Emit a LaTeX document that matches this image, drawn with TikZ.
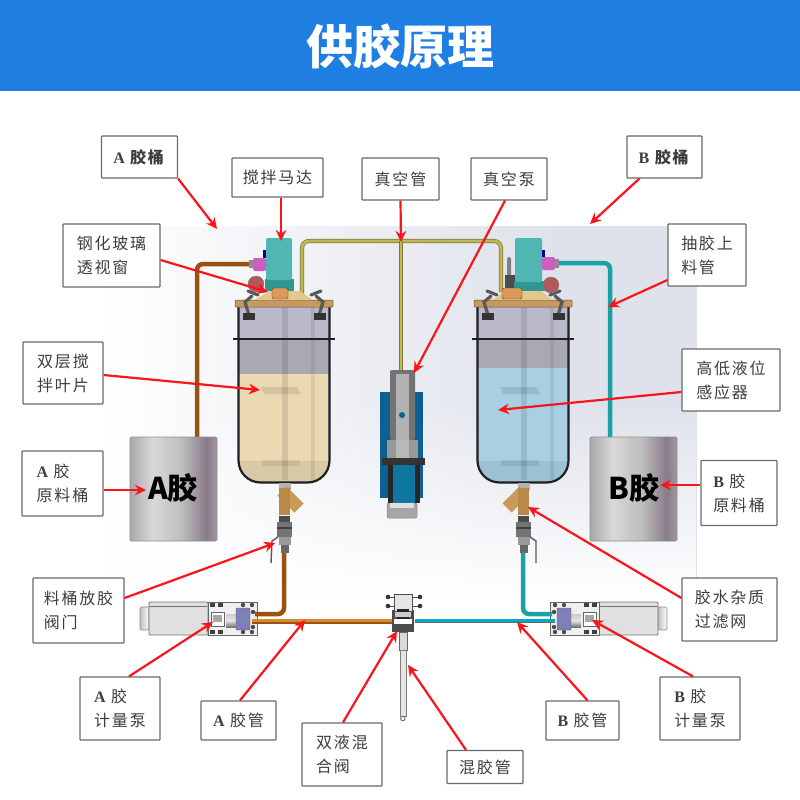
\documentclass[tikz,border=0pt]{standalone}
\usepackage{fontspec}
\usetikzlibrary{arrows.meta,fadings,calc}
\newfontfamily\cjk[LetterSpace=11]{Noto Sans CJK SC}
\newfontfamily\titlefont{Noto Sans CJK SC}
\newfontfamily\latinface{Liberation Serif}
\setmainfont{Noto Sans CJK SC}
\newcommand{\Lat}[1]{{\latinface\bfseries #1}}
\definecolor{headblue}{HTML}{1E7EE2}
\definecolor{boxedge}{HTML}{6A6A6A}
\definecolor{labeltext}{HTML}{3E3E3E}
\definecolor{alert}{HTML}{FA141C}
\definecolor{amberdark}{HTML}{9A5212}
\definecolor{amber}{HTML}{D98A2E}
\definecolor{tealpipe}{HTML}{17A3A6}
\definecolor{mustard}{HTML}{BFB850}
\definecolor{mustarddark}{HTML}{807A36}
\definecolor{wall}{HTML}{1E1E24}
\definecolor{upperzone}{HTML}{B9B9C9}
\definecolor{midzone}{HTML}{A9A9B2}
\definecolor{lidbrown}{HTML}{C59A62}
\definecolor{conetan}{HTML}{E2C88E}
\definecolor{motorteal}{HTML}{4FB6B4}
\definecolor{motordark}{HTML}{2F9690}
\definecolor{joint}{HTML}{C95FC0}
\definecolor{gauge}{HTML}{B4575A}
\definecolor{pumpblue}{HTML}{0F5F92}
\definecolor{bgtint}{HTML}{DFE2EB}
\definecolor{glueA}{HTML}{EBD9B2}
\definecolor{glueB}{HTML}{A8D0E2}
\definecolor{brassbody}{HTML}{B8894A}
\definecolor{brassarm}{HTML}{C99A58}
\tikzfading[name=fadeeast, left color=transparent!0, right color=transparent!100]
\tikzfading[name=fadeup, top color=transparent!100, bottom color=transparent!0]
\tikzfading[name=fadeband, top color=transparent!100, middle color=transparent!35, bottom color=transparent!100]
\pgfdeclarehorizontalshading{drumsteel}{100bp}{
  color(0bp)=(black!34); color(25bp)=(black!34); color(38bp)=(black!15);
  color(55bp)=(black!26); color(69bp)=(violet!22!black!52); color(75bp)=(violet!18!black!40); color(100bp)=(violet!18!black!40)}
\tikzset{
  labelbox/.style={draw=boxedge, line width=1.2pt, fill=white, rounded corners=0.8pt,
    minimum width=#1, inner sep=0pt, text=labeltext, font=\cjk\fontsize{16}{24}\selectfont, align=left},
  callout/.style={draw=alert, line width=2.2pt, -{Stealth[length=11pt,width=10.5pt]}},
  amberpipe/.style={draw=amberdark, line width=4.5pt, rounded corners=6pt},
  tealtube/.style={draw=tealpipe, line width=4.5pt, rounded corners=6pt},
  yellowtube/.style={draw=mustarddark, line width=4.2pt, rounded corners=7pt},
  yellowcore/.style={draw=mustard, line width=2.8pt, rounded corners=7pt},
  clampline/.style={draw=#1, line width=3.2pt, line cap=round},
  drumbody/.style={shading=drumsteel, draw=black!45, line width=.8pt, rounded corners=1.5pt},
}
% vessel shell, drawn at the position of the left tank
\newcommand{\vesselshell}[2]{%
  \fill[#1] (239,#2) [rounded corners=21pt] -- (239,482) -- (329,482) -- (329,420) [sharp corners] -- (329,#2) -- cycle;
  \fill[upperzone] (239,307) rectangle (329,340);
  \fill[midzone] (239,340) rectangle (329,#2);
  \fill[black, opacity=.07] (239,461) [rounded corners=21pt] -- (239,482) -- (329,482) -- (329,470) [sharp corners] -- (329,461) -- cycle;
  \fill[black, opacity=.10] (282,307) rectangle (288,480);
  \fill[black, opacity=.07] (311,307) rectangle (315,480);
  \fill[black, opacity=.10] (261,387) -- (297,387) -- (301,394) -- (264,394) -- cycle;
  \fill[black, opacity=.08] (262,460) rectangle (300,466);
  \draw[wall, line width=2.2pt] (238.5,307) [rounded corners=22pt] -- (238.5,482.5) -- (329.5,482.5) -- (329.5,420) [sharp corners] -- (329.5,307);
  \draw[wall, line width=2pt] (233,339) -- (335,339);
  \fill[lidbrown, draw=brown!60!black, line width=.5pt, rounded corners=1pt] (235,300) rectangle (333,307);
  % toggle clamps on the lid
  \draw[clampline=black!65] (248,291) -- (258,295);
  \draw[clampline=black!65] (252,296) -- (245,302) -- (249,315);
  \fill[black!80] (243,313) rectangle (255,320);
  \draw[clampline=black!65] (321,291) -- (311,295);
  \draw[clampline=black!65] (316,296) -- (323,302) -- (319,315);
  \fill[black!80] (314,313) rectangle (326,320);
}
% valve stack below the strainer, common to both tanks
\newcommand{\valvestack}{%
  \fill[black!70] (279,516) rectangle (290,522);
  \fill[black!55] (277,522) rectangle (292,537);
  \fill[black!75] (277,527) rectangle (292,529);
  \fill[black!40] (279,537) rectangle (291,545);
  \fill[black!60] (281,545) rectangle (289,553);
}
% servo metering pump
\newcommand{\meterpump}{%
  \shade[draw=black!45, line width=.7pt, rounded corners=1.5pt, left color=black!25, right color=white] (140,607) rectangle (149,630);
  \fill[black!12, draw=black!55, line width=.9pt, rounded corners=1pt] (149,602) rectangle (208,635);
  \draw[black!55, line width=.7pt] (149,606.5) -- (207,606.5);
  \fill[black!6, draw=black!60, line width=.9pt] (208,602) rectangle (257,635);
  \foreach \bx/\by in {210/603,218/603,210/630,218/630}
    \fill[black!75] (\bx,\by) rectangle ++(5,4);
  \fill[white, draw=black!60, line width=.6pt] (211,612) rectangle (224,626);
  \fill[black!35] (213,615) rectangle (222,622);
  \shade[top color=black!20, bottom color=black!55, middle color=black!10] (226,614) rectangle (237,627);
  \fill[black!55!blue!50!white, draw=black!65, line width=.4pt, rounded corners=1pt] (236,608) rectangle (250,630);
  \foreach \rx/\ry in {243/605,252/605,243/632,252/632,253/612,253/627}
    \fill[black!70] (\rx,\ry) circle (2.2);
}
\begin{document}
\begin{tikzpicture}[x=1pt,y=-1pt]
\useasboundingbox (0,0) rectangle (800,800);
\fill[white] (0,0) rectangle (800,800);

% backdrop tint of the model view
\fill[bgtint] (108,226) rectangle (697,600);
\fill[white, path fading=fadeeast] (108,226) rectangle (560,600);
\fill[white, path fading=fadeup] (108,400) rectangle (697,600);
\fill[bgtint, path fading=fadeband, opacity=.6] (108,340) rectangle (480,590);

% heading band
\fill[headblue] (0,0) rectangle (800,91);
\node[text=white, font=\titlefont\bfseries\fontsize{47}{50}\selectfont] (heading) at (400,46) {供胶原理};

% feed pipes and vacuum line
\draw[amberpipe] (252,264) -- (197,264) -- (197,440);
\draw[tealtube] (555,263) -- (610,263) -- (610,440);
\draw[yellowtube] (302,298) -- (302,241) -- (501,241) -- (501,292);
\draw[yellowcore] (302,298) -- (302,241) -- (501,241) -- (501,292);
\draw[mustarddark, line width=4.2pt] (401,241) -- (401,372);
\draw[mustard, line width=2.8pt] (401,241) -- (401,372);

% left vessel
\vesselshell{glueA}{374}
\fill[conetan] (254,300) -- (270,291) -- (300,291) -- (313,300) -- cycle;
\fill[motordark] (265,279) rectangle (294,291);
\fill[motorteal, rounded corners=2pt] (266,238) rectangle (292,280);
\fill[joint, rounded corners=2pt] (253,258) rectangle (266,271);
\fill[black!45] (249,260) rectangle (254,268);
\fill[blue!60!black] (263,250) rectangle (266,258);
\fill[gauge, draw=black!50, line width=.4pt] (256,284) circle (8);
\fill[brown!75!orange!80, draw=brown!50!black, line width=.4pt, rounded corners=1.5pt] (272,288) rectangle (288,299);

% right vessel
\begin{scope}[xshift=239pt]
\vesselshell{glueB}{368}
\end{scope}
\fill[conetan] (493,300) -- (505,291) -- (541,291) -- (552,300) -- cycle;
\fill[black!50, rounded corners=1.5pt] (507,257) rectangle (511,290);
\fill[black!70] (505,275) rectangle (515,290);
\fill[motordark] (514,281) rectangle (545,291);
\fill[motorteal, rounded corners=2pt] (515,238) rectangle (542,282);
\fill[joint, rounded corners=2pt] (542,257) rectangle (555,270);
\fill[black!45] (555,259) rectangle (559,268);
\fill[blue!60!black] (542,250) rectangle (545,257);
\fill[gauge, draw=black!50, line width=.4pt] (551,285) circle (8);
\fill[brown!75!orange!80, draw=brown!50!black, line width=.4pt, rounded corners=1.5pt] (502,288) rectangle (522,299);

% vacuum pump
\fill[pumpblue] (380,392) rectangle (423,498);
\fill[black!55, rounded corners=2pt] (390,370) rectangle (415,440);
\fill[black!30] (396,374) rectangle (409,440);
\fill[black!40] (387,440) rectangle (418,458);
\fill[black!28] (396,440) rectangle (409,458);
\fill[pumpblue] (402,415) circle (3);
\fill[pumpblue!85!cyan] (393,465) rectangle (415,503);
\fill[black!85] (388,465) rectangle (393,503);
\fill[black!85] (415,465) rectangle (420,503);
\fill[black!80] (382,458) rectangle (425,465);
\fill[black!35, draw=black!50, line width=.5pt, rounded corners=2pt] (387,503) rectangle (417,518);
\fill[black!12] (390,503) rectangle (414,508);

% strainers, valve stacks and lever handles
\fill[black!30] (279,483) rectangle (291,490);
\draw[brassarm, line width=13pt, rounded corners=2pt] (282,491) -- (299,508);
\fill[brassbody] (279,488) rectangle (290,515);
\valvestack
\begin{scope}[xshift=239pt]
\fill[black!30] (279,483) rectangle (291,490);
\draw[brassarm, line width=13pt] (285,491) -- (268,508);
\fill[brassbody] (279,488) rectangle (290,515);
\valvestack
\end{scope}
\draw[black!65, line width=1.4pt] (278,537) -- (272,541) -- (271,563);
\draw[black!65, line width=1.4pt] (530,537) -- (536,541) -- (536,563);

% metering pumps
\meterpump
\begin{scope}[shift={(807,0)},xscale=-1]
\meterpump
\end{scope}

% glue lines to the mixing valve
\draw[amberpipe] (284,553) -- (284,614) -- (255,614);
\draw[tealtube] (523,553) -- (523,614) -- (552,614);
\draw[amberdark, line width=5pt] (252,621) -- (392,621);
\draw[amber, line width=2.6pt] (252,620.4) -- (392,620.4);
\draw[black!60, line width=4.8pt] (415,621) -- (555,621);
\draw[cyan!75!green, line width=3.2pt] (415,620.4) -- (555,620.4);

% mixing valve and static mixer tube
\fill[black!15, draw=black!60, line width=.7pt] (399,632) rectangle (407,650);
\fill[black!10, draw=black!50, line width=.6pt] (400,650) rectangle (406,716);
\draw[black!55, line width=1pt] (402.8,718.5) circle (2.2);
\foreach \kx/\ky in {388/597,388/606,420/597,420/606}{
  \draw[black!70, line width=1pt] (\kx,\ky) -- (403,\ky);
  \fill[black!80] (\kx,\ky) circle (2.3);
}
\fill[black!70] (392,610) rectangle (414,632);
\fill[black!10, draw=black!70, line width=.8pt] (394,594) rectangle (412,611);
\fill[white] (394,619) rectangle (412,624);
\fill[black!20] (395,612) rectangle (411,617);
\fill[black!85] (397,609) rectangle (409,612);
\fill[black!85] (397,617) rectangle (409,619);

% storage drums
\shade[drumbody] (130,437) rectangle (217,541);
\shade[drumbody] (590,437) rectangle (677,541);
\node[font=\bfseries\fontsize{30}{32}\selectfont, text=black] (drumA) at (173,488) {A胶};
\node[font=\bfseries\fontsize{30}{32}\selectfont, text=black] (drumB) at (634,488) {B胶};

% labels
\node[labelbox=76pt, minimum height=42pt] (labTankA) at (139.5,157) {\Lat{A} \textbf{胶桶}};
\node[labelbox=75pt, minimum height=42pt] (labTankB) at (664.5,157) {\Lat{B} \textbf{胶桶}};
\node[labelbox=91pt, minimum height=39pt] (labMotor) at (277.5,177.5) {搅拌马达};
\node[labelbox=77pt, minimum height=42pt] (labVacTube) at (400.5,179) {真空管};
\node[labelbox=76pt, minimum height=42pt] (labVacPump) at (509,179) {真空泵};
\node[labelbox=97pt, minimum height=63pt] (labGlass) at (111.5,255.5) {钢化玻璃\\透视窗};
\node[labelbox=80pt, minimum height=62pt] (labBlade) at (63,373) {双层搅\\拌叶片};
\node[labelbox=78pt, minimum height=62pt] (labFeed) at (707,255) {抽胶上\\料管};
\node[labelbox=98pt, minimum height=62pt] (labLevel) at (731,380) {高低液位\\感应器};
\node[labelbox=81pt, minimum height=65pt] (labDrumA) at (62.5,483.5) {\Lat{A} 胶\\原料桶};
\node[labelbox=76pt, minimum height=65pt] (labDrumB) at (739,493) {\Lat{B} 胶\\原料桶};
\node[labelbox=91pt, minimum height=65pt] (labValve) at (78.5,610.5) {料桶放胶\\阀门};
\node[labelbox=80pt, minimum height=63pt] (labMeterA) at (120,708.5) {\Lat{A} 胶\\计量泵};
\node[labelbox=75pt, minimum height=39pt] (labPipeA) at (238.5,720.5) {\Lat{A} 胶管};
\node[labelbox=80pt, minimum height=63pt] (labMixer) at (342,754.5) {双液混\\合阀};
\node[labelbox=76pt, minimum height=33pt] (labMixTube) at (485,767) {混胶管};
\node[labelbox=73pt, minimum height=39pt] (labPipeB) at (582.5,720.5) {\Lat{B} 胶管};
\node[labelbox=80pt, minimum height=63pt] (labMeterB) at (700,708.5) {\Lat{B} 胶\\计量泵};
\node[labelbox=95pt, minimum height=63pt] (labStrainer) at (729.5,609.5) {胶水杂质\\过滤网};

% callout targets
\coordinate (tipTankA) at (217,229);
\coordinate (tipTankB) at (590,224);
\coordinate (tipMotor) at (281,241);
\coordinate (tipVacTube) at (401,242);
\coordinate (tipVacPump) at (414,373);
\coordinate (tipGlass) at (268,292);
\coordinate (tipBlade) at (260,390);
\coordinate (tipFeed) at (608,307);
\coordinate (tipLevel) at (498,410);
\coordinate (tipDrumA) at (146,490);
\coordinate (tipDrumB) at (660,485);
\coordinate (tipValve) at (275,543);
\coordinate (tipMeterA) at (213,622);
\coordinate (tipPipeA) at (305,620);
\coordinate (tipMixer) at (397,631);
\coordinate (tipMixTube) at (408,665);
\coordinate (tipPipeB) at (517,622);
\coordinate (tipMeterB) at (592,620);
\coordinate (tipStrainer) at (528,507);

% callouts
\draw[callout] (labTankA.south east) -- (tipTankA);
\draw[callout] ([xshift=13pt]labTankB.south west) -- (tipTankB);
\draw[callout] ([xshift=3.5pt]labMotor.south) -- (tipMotor);
\draw[callout] (labVacTube.south) -- (tipVacTube);
\draw[callout] ([xshift=-4pt]labVacPump.south) -- (tipVacPump);
\draw[callout] ([yshift=-4.5pt]labGlass.east) -- (tipGlass);
\draw[callout] ([yshift=-2pt]labBlade.east) -- (tipBlade);
\draw[callout] ([yshift=-25pt]labFeed.west) -- (tipFeed);
\draw[callout] ([yshift=-12pt]labLevel.west) -- (tipLevel);
\draw[callout] ([yshift=-6.5pt]labDrumA.east) -- (tipDrumA);
\draw[callout] ([yshift=8pt]labDrumB.west) -- (tipDrumB);
\draw[callout] ([yshift=12.5pt]labValve.east) -- (tipValve);
\draw[callout] ([xshift=9pt]labMeterA.north) -- (tipMeterA);
\draw[callout] ([xshift=1.5pt]labPipeA.north) -- (tipPipeA);
\draw[callout] ([xshift=1pt]labMixer.north) -- (tipMixer);
\draw[callout] ([xshift=-19pt]labMixTube.north) -- (tipMixTube);
\draw[callout] ([xshift=5pt]labPipeB.north) -- (tipPipeB);
\draw[callout] ([xshift=-7pt]labMeterB.north) -- (tipMeterB);
\draw[callout] ([yshift=11.5pt]labStrainer.west) -- (tipStrainer);
\end{tikzpicture}
\end{document}
